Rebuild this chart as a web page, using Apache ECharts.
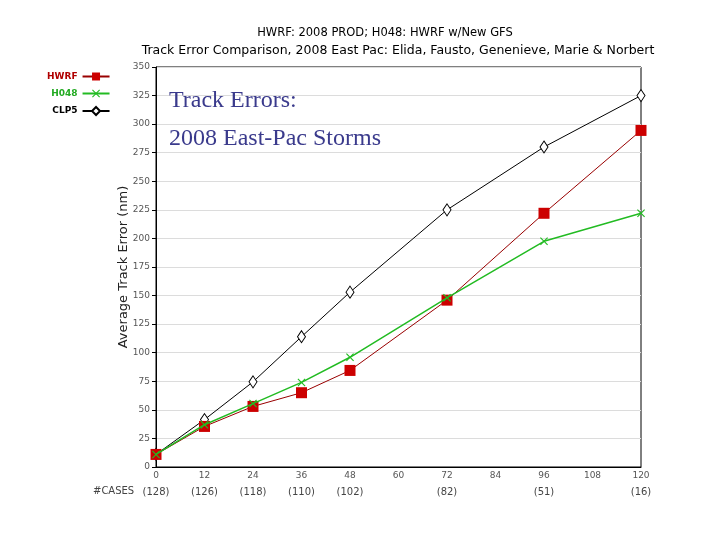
<!DOCTYPE html>
<html>
<head>
<meta charset="utf-8">
<script src="https://cdn.jsdelivr.net/npm/echarts@6/dist/echarts.min.js"></script>
<style>html,body{margin:0;padding:0;background:#fff}#c{width:720px;height:540px}</style>
</head>
<body>
<div id="c"></div>
<script>
const titleLine1 = 'HWRF: 2008 PROD; H048: HWRF w/New GFS';
const titleLine2 = 'Track Error Comparison, 2008 East Pac: Elida, Fausto, Genenieve, Marie & Norbert';
const overlay1 = 'Track Errors:';
const overlay2 = '2008 East-Pac Storms';
const yAxisTitle = 'Average Track Error (nm)';
const casesTitle = '#CASES';

const leadHours = [0, 12, 24, 36, 48, 72, 96, 120];
const cases = ['128', '126', '118', '110', '102', '82', '51', '16'];
const hwrf = [11, 35.5, 53, 65, 84.5, 146, 222, 294.5];
const h048 = [11, 37, 55.5, 74, 96, 148, 197.5, 222];
const clp5 = [11, 41.5, 74.5, 114, 153, 225, 280, 325];
const seriesNames = ['HWRF', 'H048', 'CLP5'];

const pts = arr => leadHours.map((h, i) => [h, arr[i]]);
const xMark = 'path://M0,1L1,0L5,4L9,0L10,1L6,5L10,9L9,10L5,6L1,10L0,9L4,5Z';

const chart = echarts.init(document.getElementById('c'), null, {renderer: 'canvas'});
chart.setOption({
  animation: false,
  backgroundColor: '#ffffff',
  textStyle: {fontFamily: 'DejaVu Sans'},
  grid: {left: 156, right: 79, top: 67, bottom: 73, show: true, borderColor: '#000', borderWidth: 1},
  legend: {
    orient: 'vertical', left: 42, top: 67, align: 'right',
    itemWidth: 27, itemHeight: 10, itemGap: 8,
    textStyle: {fontSize: 9, fontWeight: 'bold', fontFamily: 'DejaVu Sans'},
    data: [
      {name: seriesNames[0], textStyle: {color: '#b00000'}},
      {name: seriesNames[1], textStyle: {color: '#22aa22'}},
      {name: seriesNames[2], textStyle: {color: '#000000'}}
    ]
  },
  xAxis: {
    type: 'value', min: 0, max: 120, interval: 12,
    axisLine: {lineStyle: {color: '#000', width: 1}},
    axisTick: {show: false},
    splitLine: {show: false},
    axisLabel: {
      margin: 3, fontSize: 9, color: '#555', lineHeight: 12,
      showMinLabel: true, showMaxLabel: true,
      formatter: v => {
        const i = leadHours.indexOf(v);
        return i >= 0 ? v + '\n{c|(' + cases[i] + ')}' : String(v);
      },
      rich: {c: {fontSize: 10, lineHeight: 20, color: '#444'}}
    }
  },
  yAxis: {
    type: 'value', min: 0, max: 350, interval: 25,
    name: yAxisTitle, nameLocation: 'middle', nameGap: 26, nameMoveOverlap: false,
    nameTextStyle: {fontSize: 13, color: '#222'},
    axisLine: {show: true, lineStyle: {color: '#000', width: 1}},
    axisTick: {show: true, length: 4, lineStyle: {color: '#000'}},
    splitLine: {show: true, lineStyle: {color: '#dcdcdc', width: 1}},
    axisLabel: {margin: 6, fontSize: 9, color: '#555'}
  },
  graphic: [
    {type: 'text', x: 385, y: 33, style: {text: titleLine1, font: '11.5px "DejaVu Sans"', fill: '#000', textAlign: 'center', textVerticalAlign: 'middle'}},
    {type: 'text', x: 398, y: 51, style: {text: titleLine2, font: '12.5px "DejaVu Sans"', fill: '#000', textAlign: 'center', textVerticalAlign: 'middle'}},
    {type: 'text', x: 169, y: 101, z: 10, style: {text: overlay1, font: '24px "Liberation Serif"', fill: '#3a3a8c', textVerticalAlign: 'middle'}},
    {type: 'text', x: 169, y: 139, z: 10, style: {text: overlay2, font: '24px "Liberation Serif"', fill: '#3a3a8c', textVerticalAlign: 'middle'}},
    {type: 'text', x: 93, y: 491, style: {text: casesTitle, font: '10px "DejaVu Sans"', fill: '#444', textVerticalAlign: 'middle'}}
  ],
  series: [
    {
      name: seriesNames[2], type: 'line', data: pts(clp5), z: 3,
      symbol: 'diamond', symbolSize: [8, 12],
      lineStyle: {color: '#000', width: 1},
      itemStyle: {color: '#ffffff', borderColor: '#000', borderWidth: 1}
    },
    {
      name: seriesNames[0], type: 'line', data: pts(hwrf), z: 4,
      symbol: 'rect', symbolSize: 11,
      lineStyle: {color: '#990000', width: 1},
      itemStyle: {color: '#cc0000'}
    },
    {
      name: seriesNames[1], type: 'line', data: pts(h048), z: 5,
      symbol: xMark, symbolSize: 8,
      lineStyle: {color: '#22bb22', width: 1.5},
      itemStyle: {color: '#22bb22'}
    }
  ]
});
</script>
</body>
</html>
